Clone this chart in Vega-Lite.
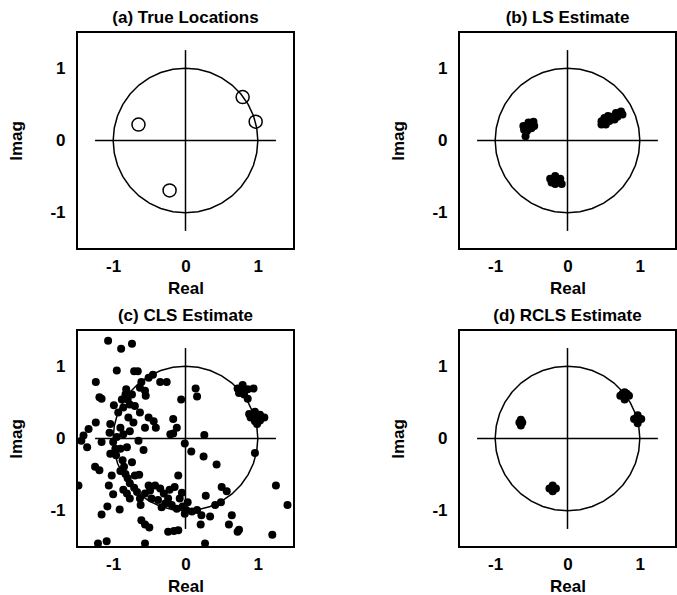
{
  "$schema": "https://vega.github.io/schema/vega-lite/v6.json",
  "background": "white",
  "padding": {"left": 6, "top": 8, "right": 0, "bottom": 0},
  "autosize": {"type": "pad"},
  "config": {
    "font": "Liberation Sans",
    "view": {"stroke": "black", "strokeWidth": 2},
    "axis": {"grid": false, "domain": false, "ticks": false, "tickSize": 0, "labelFontSize": 17, "titleFontSize": 17, "labelColor": "black", "titleColor": "black", "titleFontWeight": "bold", "labelFontWeight": "bold", "labelFont": "Liberation Sans", "titleFont": "Liberation Sans", "labelExpr": "toString(datum.value)"},
    "axisY": {"labelPadding": 12, "titlePadding": 24},
    "axisX": {"labelPadding": 9, "titlePadding": 6},
    "title": {"fontSize": 17, "fontWeight": "bold", "offset": 5, "color": "black", "font": "Liberation Sans"}
  },
  "datasets": {
    "circle": [
      {"k": 0, "x": 1, "y": 0}, {"k": 1, "x": 0.9848, "y": 0.1736}, {"k": 2, "x": 0.9397, "y": 0.342}, {"k": 3, "x": 0.866, "y": 0.5}, {"k": 4, "x": 0.766, "y": 0.6428}, {"k": 5, "x": 0.6428, "y": 0.766}, {"k": 6, "x": 0.5, "y": 0.866}, {"k": 7, "x": 0.342, "y": 0.9397}, {"k": 8, "x": 0.1736, "y": 0.9848}, {"k": 9, "x": 0, "y": 1},
      {"k": 10, "x": -0.1736, "y": 0.9848}, {"k": 11, "x": -0.342, "y": 0.9397}, {"k": 12, "x": -0.5, "y": 0.866}, {"k": 13, "x": -0.6428, "y": 0.766}, {"k": 14, "x": -0.766, "y": 0.6428}, {"k": 15, "x": -0.866, "y": 0.5}, {"k": 16, "x": -0.9397, "y": 0.342}, {"k": 17, "x": -0.9848, "y": 0.1736}, {"k": 18, "x": -1, "y": 0},
      {"k": 19, "x": -0.9848, "y": -0.1736}, {"k": 20, "x": -0.9397, "y": -0.342}, {"k": 21, "x": -0.866, "y": -0.5}, {"k": 22, "x": -0.766, "y": -0.6428}, {"k": 23, "x": -0.6428, "y": -0.766}, {"k": 24, "x": -0.5, "y": -0.866}, {"k": 25, "x": -0.342, "y": -0.9397}, {"k": 26, "x": -0.1736, "y": -0.9848}, {"k": 27, "x": 0, "y": -1},
      {"k": 28, "x": 0.1736, "y": -0.9848}, {"k": 29, "x": 0.342, "y": -0.9397}, {"k": 30, "x": 0.5, "y": -0.866}, {"k": 31, "x": 0.6428, "y": -0.766}, {"k": 32, "x": 0.766, "y": -0.6428}, {"k": 33, "x": 0.866, "y": -0.5}, {"k": 34, "x": 0.9397, "y": -0.342}, {"k": 35, "x": 0.9848, "y": -0.1736}, {"k": 36, "x": 1, "y": 0}
    ],
    "cross": [
      {"x": -1.25, "y": 0, "x2": 1.25, "y2": 0},
      {"x": 0, "y": -1.25, "x2": 0, "y2": 1.25}
    ],
    "a": [
      {"x": -0.65, "y": 0.22}, {"x": 0.79, "y": 0.6}, {"x": 0.97, "y": 0.26}, {"x": -0.22, "y": -0.69}
    ],
    "b": [
      {"x": -0.61, "y": 0.2}, {"x": -0.54, "y": 0.25}, {"x": -0.47, "y": 0.26}, {"x": -0.46, "y": 0.2}, {"x": -0.56, "y": 0.13}, {"x": -0.58, "y": 0.06}, {"x": -0.5, "y": 0.17}, {"x": -0.52, "y": 0.22}, {"x": -0.6, "y": 0.15},
      {"x": 0.47, "y": 0.265}, {"x": 0.51, "y": 0.31}, {"x": 0.56, "y": 0.34}, {"x": 0.6, "y": 0.33}, {"x": 0.67, "y": 0.38}, {"x": 0.74, "y": 0.4}, {"x": 0.76, "y": 0.36}, {"x": 0.65, "y": 0.29}, {"x": 0.53, "y": 0.22}, {"x": 0.47, "y": 0.22}, {"x": 0.69, "y": 0.33}, {"x": 0.58, "y": 0.27},
      {"x": -0.24, "y": -0.53}, {"x": -0.17, "y": -0.49}, {"x": -0.1, "y": -0.53}, {"x": -0.08, "y": -0.6}, {"x": -0.17, "y": -0.6}, {"x": -0.22, "y": -0.58}, {"x": -0.13, "y": -0.57}
    ],
    "c": [
      {"x": -1.07, "y": 1.35}, {"x": -0.89, "y": 1.24}, {"x": -0.74, "y": 1.31}, {"x": -0.95, "y": 0.94}, {"x": -0.71, "y": 0.93}, {"x": -0.66, "y": 0.93}, {"x": -1.24, "y": 0.78}, {"x": -1.19, "y": 0.57}, {"x": -1.16, "y": 0.55}, {"x": -0.61, "y": 0.78},
      {"x": -0.51, "y": 0.84}, {"x": -0.45, "y": 0.88}, {"x": -0.63, "y": 0.7}, {"x": -0.56, "y": 0.66}, {"x": -0.35, "y": 0.78}, {"x": -0.26, "y": 0.78}, {"x": -0.06, "y": 0.54}, {"x": -0.82, "y": 0.68}, {"x": -0.83, "y": 0.61}, {"x": -0.88, "y": 0.54},
      {"x": -0.8, "y": 0.54}, {"x": -0.77, "y": 0.47}, {"x": -0.86, "y": 0.43}, {"x": -0.74, "y": 0.61}, {"x": -0.7, "y": 0.45}, {"x": -0.55, "y": 0.59}, {"x": -0.99, "y": 0.46}, {"x": -0.93, "y": 0.36}, {"x": -0.63, "y": 0.36}, {"x": -0.51, "y": 0.29},
      {"x": -0.44, "y": 0.24}, {"x": -0.79, "y": 0.29}, {"x": -0.72, "y": 0.22}, {"x": -1.24, "y": 0.22}, {"x": -1.34, "y": 0.13}, {"x": -1.04, "y": 0.2}, {"x": -0.9, "y": 0.15}, {"x": -1.05, "y": 0.08}, {"x": -0.12, "y": 0.15}, {"x": -0.17, "y": 0.27},
      {"x": -0.41, "y": 0.15}, {"x": -0.77, "y": 0.1}, {"x": -0.56, "y": 0.15}, {"x": -0.86, "y": 0.06}, {"x": -0.95, "y": 0.02}, {"x": -1.41, "y": 0.04}, {"x": -0.17, "y": 0.07}, {"x": 0.14, "y": 0.69}, {"x": 0.16, "y": 0.58}, {"x": 0.26, "y": 0.05},
      {"x": 0.72, "y": 0.69}, {"x": 0.79, "y": 0.74}, {"x": 0.86, "y": 0.68}, {"x": 0.94, "y": 0.69}, {"x": 0.74, "y": 0.63}, {"x": 0.81, "y": 0.61}, {"x": 0.86, "y": 0.55}, {"x": 0.79, "y": 0.66}, {"x": 0.88, "y": 0.34}, {"x": 0.96, "y": 0.37},
      {"x": 1.03, "y": 0.33}, {"x": 1.09, "y": 0.29}, {"x": 0.96, "y": 0.24}, {"x": 0.9, "y": 0.29}, {"x": 1.03, "y": 0.25}, {"x": 0.99, "y": 0.2}, {"x": 1.0, "y": 0.31}, {"x": -1.44, "y": -0.03}, {"x": -1.36, "y": -0.12}, {"x": -1.16, "y": -0.05},
      {"x": -1.0, "y": -0.05}, {"x": -0.97, "y": -0.14}, {"x": -0.96, "y": -0.23}, {"x": -0.81, "y": -0.12}, {"x": -0.65, "y": -0.03}, {"x": -0.58, "y": -0.16}, {"x": -0.87, "y": -0.3}, {"x": -0.85, "y": -0.39}, {"x": -0.83, "y": -0.49}, {"x": -0.8, "y": -0.55},
      {"x": -0.77, "y": -0.62}, {"x": -0.71, "y": -0.68}, {"x": -1.25, "y": -0.39}, {"x": -1.19, "y": -0.44}, {"x": -1.02, "y": -0.51}, {"x": -1.06, "y": -0.65}, {"x": -1.0, "y": -0.77}, {"x": -1.48, "y": -0.65}, {"x": -1.08, "y": -0.94}, {"x": -1.16, "y": -1.05},
      {"x": -0.91, "y": -0.98}, {"x": -0.64, "y": -0.5}, {"x": -0.81, "y": -0.76}, {"x": -0.77, "y": -0.83}, {"x": -0.67, "y": -0.74}, {"x": -0.63, "y": -0.83}, {"x": -0.56, "y": -0.76}, {"x": -0.49, "y": -0.72}, {"x": -0.42, "y": -0.65}, {"x": -0.35, "y": -0.69},
      {"x": -0.3, "y": -0.76}, {"x": -0.22, "y": -0.71}, {"x": -0.15, "y": -0.67}, {"x": -0.1, "y": -0.51}, {"x": -0.38, "y": -0.85}, {"x": -0.28, "y": -0.9}, {"x": -0.19, "y": -0.92}, {"x": -0.12, "y": -0.97}, {"x": -0.04, "y": -0.94}, {"x": -0.01, "y": -1.04},
      {"x": -0.47, "y": -0.83}, {"x": -0.24, "y": -0.83}, {"x": -0.61, "y": -1.13}, {"x": -0.56, "y": -1.19}, {"x": -0.5, "y": -1.23}, {"x": -0.24, "y": -1.29}, {"x": -0.16, "y": -1.28}, {"x": -0.1, "y": -1.27}, {"x": -1.21, "y": -1.45}, {"x": -1.09, "y": -1.42},
      {"x": -0.56, "y": -1.45}, {"x": -0.9, "y": -0.14}, {"x": -1.04, "y": -0.21}, {"x": -0.7, "y": -0.51}, {"x": -0.86, "y": -0.71}, {"x": -0.51, "y": -0.65}, {"x": -0.08, "y": -0.83}, {"x": 0.08, "y": -0.18}, {"x": 0.25, "y": -0.25}, {"x": 0.43, "y": -0.36},
      {"x": 0.96, "y": -0.2}, {"x": 1.25, "y": -0.65}, {"x": 1.41, "y": -0.92}, {"x": 0.5, "y": -0.67}, {"x": 0.57, "y": -0.73}, {"x": 0.28, "y": -0.79}, {"x": 0.03, "y": -0.88}, {"x": 0.01, "y": -0.99}, {"x": 0.09, "y": -1.01}, {"x": 0.16, "y": -0.99},
      {"x": 0.22, "y": -1.06}, {"x": 0.21, "y": -1.19}, {"x": 0.34, "y": -1.08}, {"x": 0.41, "y": -0.92}, {"x": 0.49, "y": -0.88}, {"x": 0.64, "y": -1.06}, {"x": 0.6, "y": -1.19}, {"x": 0.72, "y": -1.29}, {"x": 0.74, "y": -1.26}, {"x": 1.2, "y": -1.33},
      {"x": 0.27, "y": -1.45}, {"x": -0.01, "y": -0.07}, {"x": -0.21, "y": 0.06}, {"x": -0.9, "y": -0.45}, {"x": -0.74, "y": -0.33}, {"x": -0.62, "y": -0.92}, {"x": -0.33, "y": -0.95}, {"x": -0.05, "y": -0.75}
    ],
    "d": [
      {"x": -0.645, "y": 0.26}, {"x": -0.645, "y": 0.18}, {"x": -0.665, "y": 0.22}, {"x": -0.625, "y": 0.22}, {"x": -0.645, "y": 0.22},
      {"x": -0.205, "y": -0.65}, {"x": -0.205, "y": -0.73}, {"x": -0.25, "y": -0.69}, {"x": -0.16, "y": -0.69}, {"x": -0.205, "y": -0.69},
      {"x": 0.79, "y": 0.64}, {"x": 0.79, "y": 0.54}, {"x": 0.73, "y": 0.59}, {"x": 0.85, "y": 0.59}, {"x": 0.79, "y": 0.59}, {"x": 0.76, "y": 0.62}, {"x": 0.82, "y": 0.62},
      {"x": 0.97, "y": 0.32}, {"x": 0.97, "y": 0.21}, {"x": 0.92, "y": 0.27}, {"x": 1.02, "y": 0.27}, {"x": 0.97, "y": 0.27}
    ]
  },
  "columns": 2,
  "bounds": "flush",
  "spacing": {"row": 81, "column": 165},
  "concat": [
    {
      "title": "(a) True Locations",
      "width": 217, "height": 217,
      "layer": [
        {"data": {"name": "circle"}, "mark": {"type": "line", "color": "black", "strokeWidth": 1.5},
         "encoding": {"x": {"field": "x", "type": "quantitative", "title": "Real", "scale": {"domain": [-1.5, 1.5], "nice": false, "zero": false}, "axis": {"values": [-1, 0, 1]}},
                      "y": {"field": "y", "type": "quantitative", "title": "Imag", "scale": {"domain": [-1.5, 1.5], "nice": false, "zero": false}, "axis": {"values": [-1, 0, 1]}},
                      "order": {"field": "k"}}},
        {"data": {"name": "cross"}, "mark": {"type": "rule", "color": "black", "strokeWidth": 1.5},
         "encoding": {"x": {"field": "x", "type": "quantitative", "title": "Real"}, "y": {"field": "y", "type": "quantitative", "title": "Imag"}, "x2": {"field": "x2"}, "y2": {"field": "y2"}}},
        {"data": {"name": "a"}, "mark": {"type": "point", "shape": "circle", "size": 170, "filled": false, "stroke": "black", "strokeWidth": 1.5, "opacity": 1, "clip": true},
         "encoding": {"x": {"field": "x", "type": "quantitative", "title": "Real"}, "y": {"field": "y", "type": "quantitative", "title": "Imag"}}}
      ]
    },
    {
      "title": "(b) LS Estimate",
      "width": 217, "height": 217,
      "layer": [
        {"data": {"name": "circle"}, "mark": {"type": "line", "color": "black", "strokeWidth": 1.5},
         "encoding": {"x": {"field": "x", "type": "quantitative", "title": "Real", "scale": {"domain": [-1.5, 1.5], "nice": false, "zero": false}, "axis": {"values": [-1, 0, 1]}},
                      "y": {"field": "y", "type": "quantitative", "title": "Imag", "scale": {"domain": [-1.5, 1.5], "nice": false, "zero": false}, "axis": {"values": [-1, 0, 1]}},
                      "order": {"field": "k"}}},
        {"data": {"name": "cross"}, "mark": {"type": "rule", "color": "black", "strokeWidth": 1.5},
         "encoding": {"x": {"field": "x", "type": "quantitative", "title": "Real"}, "y": {"field": "y", "type": "quantitative", "title": "Imag"}, "x2": {"field": "x2"}, "y2": {"field": "y2"}}},
        {"data": {"name": "b"}, "mark": {"type": "point", "shape": "circle", "size": 64, "filled": true, "color": "black", "opacity": 1, "clip": true},
         "encoding": {"x": {"field": "x", "type": "quantitative", "title": "Real"}, "y": {"field": "y", "type": "quantitative", "title": "Imag"}}}
      ]
    },
    {
      "title": "(c) CLS Estimate",
      "width": 217, "height": 217,
      "layer": [
        {"data": {"name": "circle"}, "mark": {"type": "line", "color": "black", "strokeWidth": 1.5},
         "encoding": {"x": {"field": "x", "type": "quantitative", "title": "Real", "scale": {"domain": [-1.5, 1.5], "nice": false, "zero": false}, "axis": {"values": [-1, 0, 1]}},
                      "y": {"field": "y", "type": "quantitative", "title": "Imag", "scale": {"domain": [-1.5, 1.5], "nice": false, "zero": false}, "axis": {"values": [-1, 0, 1]}},
                      "order": {"field": "k"}}},
        {"data": {"name": "cross"}, "mark": {"type": "rule", "color": "black", "strokeWidth": 1.5},
         "encoding": {"x": {"field": "x", "type": "quantitative", "title": "Real"}, "y": {"field": "y", "type": "quantitative", "title": "Imag"}, "x2": {"field": "x2"}, "y2": {"field": "y2"}}},
        {"data": {"name": "c"}, "mark": {"type": "point", "shape": "circle", "size": 64, "filled": true, "color": "black", "opacity": 1, "clip": true},
         "encoding": {"x": {"field": "x", "type": "quantitative", "title": "Real"}, "y": {"field": "y", "type": "quantitative", "title": "Imag"}}}
      ]
    },
    {
      "title": "(d) RCLS Estimate",
      "width": 217, "height": 217,
      "layer": [
        {"data": {"name": "circle"}, "mark": {"type": "line", "color": "black", "strokeWidth": 1.5},
         "encoding": {"x": {"field": "x", "type": "quantitative", "title": "Real", "scale": {"domain": [-1.5, 1.5], "nice": false, "zero": false}, "axis": {"values": [-1, 0, 1]}},
                      "y": {"field": "y", "type": "quantitative", "title": "Imag", "scale": {"domain": [-1.5, 1.5], "nice": false, "zero": false}, "axis": {"values": [-1, 0, 1]}},
                      "order": {"field": "k"}}},
        {"data": {"name": "cross"}, "mark": {"type": "rule", "color": "black", "strokeWidth": 1.5},
         "encoding": {"x": {"field": "x", "type": "quantitative", "title": "Real"}, "y": {"field": "y", "type": "quantitative", "title": "Imag"}, "x2": {"field": "x2"}, "y2": {"field": "y2"}}},
        {"data": {"name": "d"}, "mark": {"type": "point", "shape": "circle", "size": 64, "filled": true, "color": "black", "opacity": 1, "clip": true},
         "encoding": {"x": {"field": "x", "type": "quantitative", "title": "Real"}, "y": {"field": "y", "type": "quantitative", "title": "Imag"}}}
      ]
    }
  ]
}
